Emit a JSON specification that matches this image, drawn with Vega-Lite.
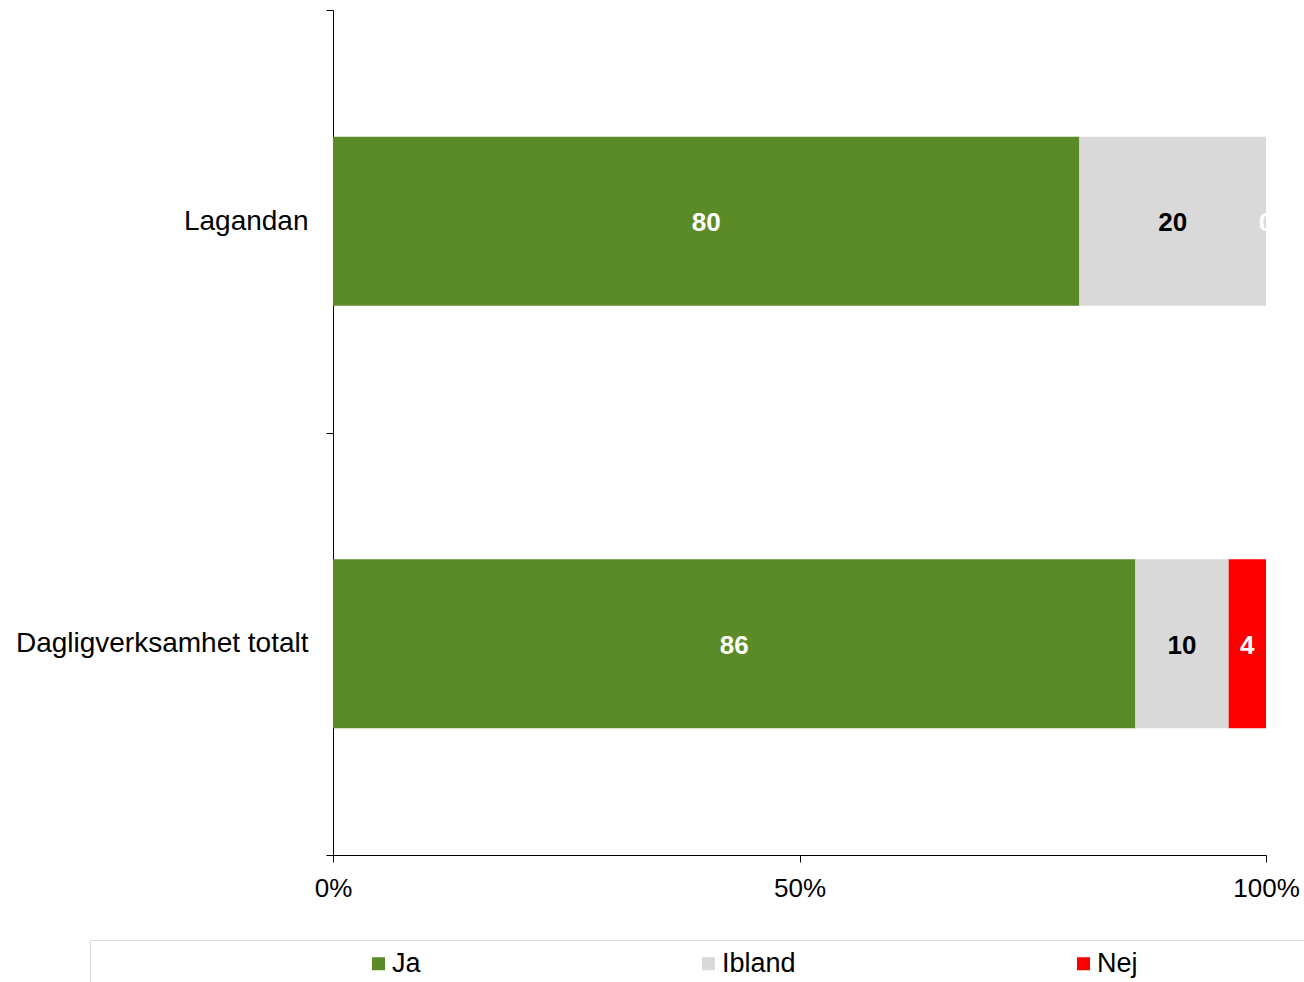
{
  "$schema": "https://vega.github.io/schema/vega-lite/v6.json",
  "width": 933,
  "height": 845,
  "autosize": "none",
  "padding": {"left": 333, "top": 10, "right": 38, "bottom": 127},
  "background": "white",
  "config": {"font": "Liberation Sans", "view": {"stroke": null}},
  "data": {
    "values": [
      {"group": "Lagandan", "answer": "Ja", "ord": 1, "value": 80},
      {"group": "Lagandan", "answer": "Ibland", "ord": 2, "value": 20},
      {"group": "Lagandan", "answer": "Nej", "ord": 3, "value": 0},
      {"group": "Dagligverksamhet totalt", "answer": "Ja", "ord": 1, "value": 86},
      {"group": "Dagligverksamhet totalt", "answer": "Ibland", "ord": 2, "value": 10},
      {"group": "Dagligverksamhet totalt", "answer": "Nej", "ord": 3, "value": 4}
    ]
  },
  "encoding": {
    "y": {
      "field": "group",
      "type": "nominal",
      "sort": null,
      "title": null,
      "scale": {"paddingInner": 0, "paddingOuter": 0},
      "axis": {
        "domainColor": "#000000",
        "tickColor": "#000000",
        "tickSize": 7,
        "tickBand": "extent",
        "labelFontSize": 28,
        "labelColor": "#000000",
        "labelPadding": 18,
        "labelLimit": 400,
        "grid": false
      }
    },
    "order": {"field": "ord", "type": "quantitative"}
  },
  "layer": [
    {
      "mark": {"type": "bar", "height": {"band": 0.4}},
      "encoding": {
        "x": {
          "field": "value",
          "type": "quantitative",
          "stack": "normalize",
          "title": null,
          "scale": {"domain": [0, 1], "nice": false},
          "axis": {
            "values": [0, 0.5, 1],
            "format": "%",
            "labelFontSize": 26,
            "labelColor": "#000000",
            "labelFlush": false,
            "tickSize": 7,
            "tickColor": "#000000",
            "domainColor": "#000000",
            "labelPadding": 13,
            "grid": false
          }
        },
        "color": {
          "field": "answer",
          "type": "nominal",
          "scale": {"domain": ["Ja", "Ibland", "Nej", "\u00a0"], "range": ["#5B8B27", "#D9D9D9", "#FF0000", "#FFFFFF"]},
          "legend": {
            "orient": "none",
            "legendX": -243,
            "legendY": 930,
            "direction": "horizontal",
            "columns": 4,
            "title": "\u00a0",
            "titleOrient": "left",
            "titleFontSize": 1,
            "titlePadding": 265,
            "padding": 10,
            "strokeColor": "#d9d9d9",
            "symbolType": "square",
            "symbolSize": 169,
            "symbolStrokeWidth": 0,
            "labelFontSize": 27,
            "labelColor": "#000000",
            "labelOffset": 0,
            "columnPadding": 274,
            "labelLimit": 800
          }
        }
      }
    },
    {
      "mark": {"type": "text", "fontWeight": "bold", "fontSize": 26, "baseline": "middle", "align": "center", "dy": 2},
      "encoding": {
        "x": {
          "field": "value",
          "type": "quantitative",
          "stack": "normalize",
          "bandPosition": 0.5
        },
        "detail": {"field": "answer", "type": "nominal"},
        "text": {"field": "value", "type": "quantitative"},
        "color": {
          "condition": {"test": "datum.answer === 'Ibland'", "value": "#000000"},
          "value": "#ffffff"
        }
      }
    }
  ]
}
